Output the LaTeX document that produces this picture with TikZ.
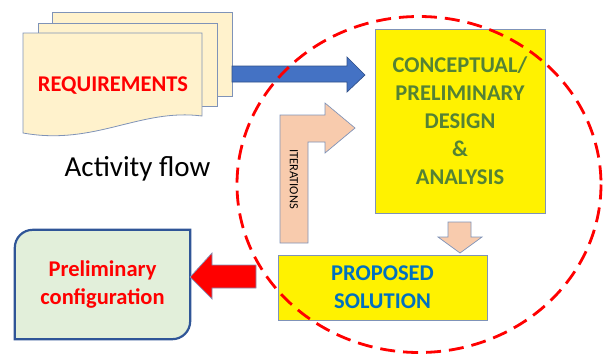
\documentclass[tikz,border=0pt]{standalone}
\usepackage{fontspec}
\setmainfont{Carlito}
\usepackage{tikz}
\usetikzlibrary{calc,backgrounds}
\definecolor{pagefill}{HTML}{FFF2CC}
\definecolor{edgeblue}{HTML}{7F93B8}
\definecolor{flowblue}{HTML}{4472C4}
\definecolor{peach}{HTML}{F8CBAD}
\definecolor{olive}{HTML}{548235}
\definecolor{textblue}{HTML}{0070C0}
\definecolor{palegreen}{HTML}{E2EFDA}
\definecolor{darkblue}{HTML}{2F5597}
\tikzset{
  page/.style={draw=edgeblue, fill=pagefill, line width=0.8pt},
  yellowbox/.style={draw=edgeblue, fill=yellow, line width=0.8pt, inner sep=0pt, align=center},
  block arrow/.style={draw=edgeblue, fill=#1, line width=0.7pt, line join=miter},
  block arrow/.default=peach,
  bigtext/.style={font=\fontsize{22.5}{28}\selectfont\bfseries, align=center},
  }

\begin{document}
\begin{tikzpicture}[x=1pt,y=-1pt]
            \useasboundingbox (0,0) rectangle (603,356);

            % Pages
            \draw[page] (52,96) -- (52,12) -- (232,12) -- (232,96) -- cycle;
            \draw[page] (38,106) -- (38,23) -- (217,23) -- (217,106) -- cycle;
            \draw[page] (23,133) -- (23,33) -- (202,33) -- (202,116) .. controls (140,108) and (95,146) .. cycle;
            \node[bigtext, text=red, anchor=base] (req) at (113,91) {REQUIREMENTS};

            % Boxes
            \node[yellowbox, minimum width=170, minimum height=184, bigtext, text=olive] (concept) at (460,121)
                {CONCEPTUAL/\\PRELIMINARY\\DESIGN\\\&\\ANALYSIS};
            \node[yellowbox, minimum width=209, minimum height=65, bigtext, text=textblue] (proposed) at (382.5,287.5)
                {PROPOSED\\SOLUTION};
            \node[minimum width=175, minimum height=109, bigtext, text=red] (prelim) at (102.5,284.5)
                {Preliminary\\configuration};

            % Outline
            \begin{scope}[on background layer]
                \draw[draw=darkblue, fill=palegreen, line width=2.2pt]
                    (prelim.south west) -- ($(prelim.north west)+(0,18)$) .. controls ($(prelim.north west)+(0,8)$) and ($(prelim.north west)+(8,0)$) .. ($(prelim.north west)+(18,0)$)
                    -- (prelim.north east) -- ($(prelim.south east)+(0,-18)$) .. controls ($(prelim.south east)+(0,-8)$) and ($(prelim.south east)+(-8,0)$) .. ($(prelim.south east)+(-18,0)$)
                    -- cycle;
            \end{scope}

            \node[font=\fontsize{29}{34}\selectfont, anchor=base] (flow) at (137.5,176) {Activity flow};

            % Arrows
            \coordinate (bluetip) at (365,75);
            \coordinate (itertip) at (355,128);
            \coordinate (downtip) at (460,253);
            \coordinate (redtip) at (prelim.east |- 0,277);
            \draw[block arrow=flowblue, draw=flowblue!70!black] (232,66) -- (347,66) -- (347,57) -- (bluetip) -- (347,92) -- (347,82) -- (232,82) -- cycle;
            \draw[block arrow] (280,243) -- (280,115) -- (325,115) -- (325,103) -- (itertip) -- (325,153) -- (325,142) -- (308,142) -- (308,243) -- cycle;
            \node[font=\fontsize{12.5}{14}\selectfont, rotate=-90] (iter) at (294,179) {ITERATIONS};
            \draw[block arrow] (448,222) -- (471,222) -- (471,237) -- (482,237) -- (downtip) -- (438,237) -- (448,237) -- cycle;
            \draw[block arrow=red] (256,265) -- (256,288) -- (212,288) -- (212,299) -- (redtip) -- (212,253) -- (212,265) -- cycle;

            % Dashed boundary
            \draw[red, line width=2.8pt, dash pattern=on 15pt off 8pt] (419,184.5) ellipse [x radius=182, y radius=168];
\end{tikzpicture}
\end{document}
